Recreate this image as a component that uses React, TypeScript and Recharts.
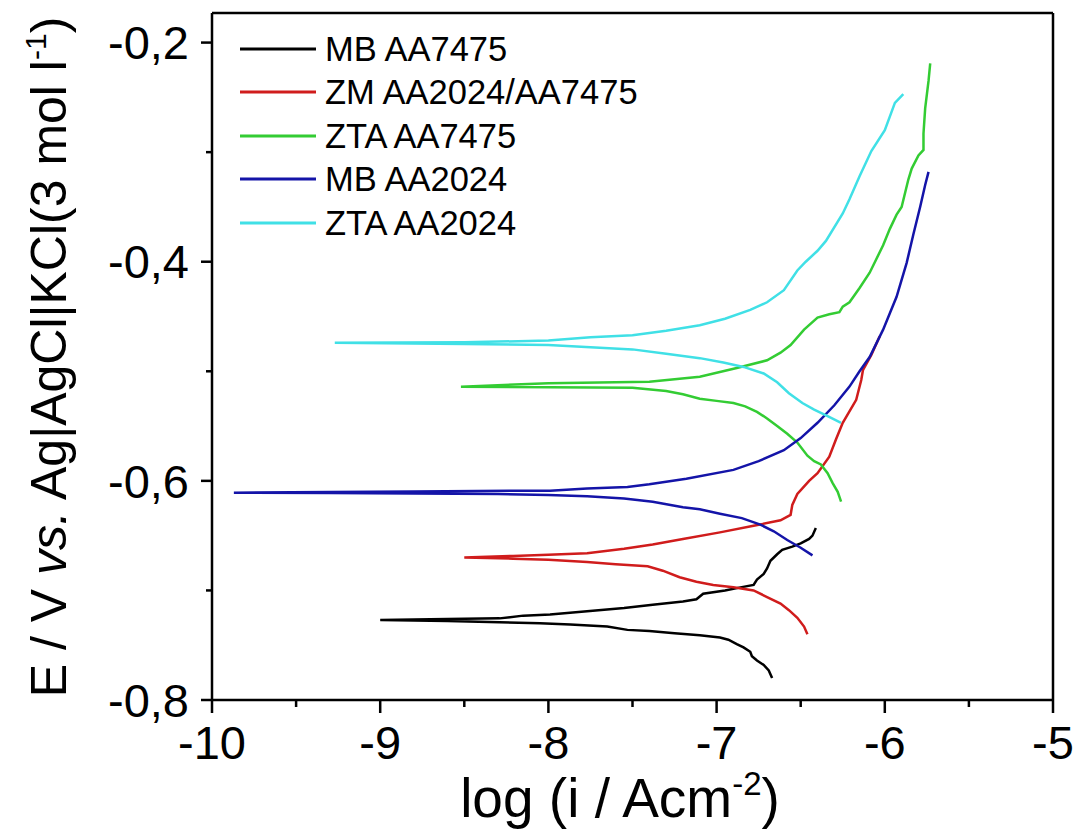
import { Legend, Line, LineChart, ReferenceLine, XAxis, YAxis } from "recharts";

// [log i, E] pairs, from the cathodic end through Ecorr to the anodic end
const mbAA7475 = [
  [-6.67, -0.78], [-6.69, -0.773], [-6.72, -0.768], [-6.76, -0.764], [-6.79, -0.76], [-6.8, -0.756],
  [-6.84, -0.752], [-6.88, -0.749], [-6.93, -0.745], [-6.98, -0.743], [-7.1, -0.741], [-7.25, -0.739],
  [-7.4, -0.737], [-7.53, -0.736], [-7.65, -0.733], [-7.87, -0.731], [-8.05, -0.73], [-8.29, -0.729],
  [-8.6, -0.728], [-9.0, -0.727],
  [-8.6, -0.726], [-8.29, -0.7255], [-8.15, -0.723], [-7.99, -0.722], [-7.77, -0.719], [-7.55, -0.716],
  [-7.38, -0.713], [-7.2, -0.71], [-7.12, -0.708], [-7.08, -0.703], [-6.95, -0.7], [-6.85, -0.697],
  [-6.78, -0.695], [-6.76, -0.69], [-6.72, -0.685], [-6.7, -0.68], [-6.68, -0.673], [-6.64, -0.667],
  [-6.61, -0.663], [-6.55, -0.66], [-6.5, -0.657], [-6.45, -0.653], [-6.43, -0.65], [-6.41, -0.643],
];

const zmAA2024AA7475 = [
  [-6.46, -0.74], [-6.48, -0.733], [-6.52, -0.725], [-6.57, -0.718], [-6.62, -0.712], [-6.7, -0.706],
  [-6.78, -0.7], [-6.9, -0.697], [-7.02, -0.695], [-7.12, -0.692], [-7.22, -0.688], [-7.32, -0.682],
  [-7.41, -0.678], [-7.6, -0.676], [-7.77, -0.674], [-8.0, -0.672], [-8.21, -0.671], [-8.5, -0.67],
  [-8.21, -0.6685], [-8.0, -0.6675], [-7.77, -0.666], [-7.55, -0.662], [-7.38, -0.658], [-7.2, -0.653],
  [-6.98, -0.647], [-6.78, -0.641], [-6.62, -0.636], [-6.56, -0.631], [-6.55, -0.622], [-6.52, -0.612],
  [-6.45, -0.6], [-6.4, -0.593], [-6.33, -0.578], [-6.29, -0.562], [-6.25, -0.547], [-6.17, -0.526],
  [-6.14, -0.508], [-6.13, -0.499], [-6.08, -0.485], [-6.03, -0.468],
];

const ztaAA7475 = [
  [-6.26, -0.619], [-6.28, -0.61], [-6.31, -0.602], [-6.34, -0.593], [-6.38, -0.585], [-6.42, -0.582],
  [-6.46, -0.577], [-6.52, -0.565], [-6.58, -0.557], [-6.64, -0.55], [-6.7, -0.543], [-6.76, -0.537],
  [-6.83, -0.532], [-6.9, -0.529], [-7.0, -0.527], [-7.1, -0.525], [-7.2, -0.521], [-7.3, -0.518],
  [-7.5, -0.515], [-7.99, -0.5145], [-8.52, -0.514],
  [-8.0, -0.511], [-7.4, -0.5095], [-7.1, -0.505], [-6.88, -0.497], [-6.7, -0.49], [-6.62, -0.483],
  [-6.56, -0.476], [-6.48, -0.462], [-6.4, -0.451], [-6.33, -0.448], [-6.27, -0.446], [-6.25, -0.441],
  [-6.21, -0.437], [-6.15, -0.424], [-6.09, -0.41], [-6.01, -0.385], [-5.97, -0.37], [-5.93, -0.357],
  [-5.9, -0.35], [-5.86, -0.325], [-5.84, -0.315], [-5.8, -0.303], [-5.77, -0.298], [-5.77, -0.283],
  [-5.76, -0.26], [-5.74, -0.235], [-5.73, -0.219],
];

const mbAA2024 = [
  [-6.43, -0.668], [-6.5, -0.661], [-6.58, -0.654], [-6.66, -0.646], [-6.74, -0.64], [-6.85, -0.634],
  [-6.98, -0.63], [-7.1, -0.626], [-7.2, -0.624], [-7.38, -0.619], [-7.55, -0.616], [-7.77, -0.614],
  [-8.0, -0.613], [-8.3, -0.612], [-8.8, -0.6115], [-9.3, -0.611], [-9.87, -0.6108],
  [-9.3, -0.6102], [-8.8, -0.6098], [-8.23, -0.609], [-7.99, -0.609], [-7.77, -0.607], [-7.53, -0.6055],
  [-7.4, -0.603], [-7.18, -0.598], [-6.9, -0.59], [-6.75, -0.582], [-6.6, -0.572], [-6.5, -0.561],
  [-6.4, -0.547], [-6.3, -0.531], [-6.21, -0.514], [-6.15, -0.5], [-6.09, -0.487], [-6.01, -0.462],
  [-5.97, -0.447], [-5.93, -0.432], [-5.87, -0.401], [-5.83, -0.375], [-5.79, -0.35], [-5.76, -0.33],
  [-5.74, -0.318],
];

const ztaAA2024 = [
  [-6.26, -0.547], [-6.34, -0.541], [-6.42, -0.535], [-6.49, -0.529], [-6.57, -0.52], [-6.64, -0.51],
  [-6.72, -0.502], [-6.84, -0.496], [-6.96, -0.492], [-7.1, -0.488], [-7.3, -0.484], [-7.5, -0.48],
  [-7.75, -0.478], [-8.0, -0.476], [-8.5, -0.475], [-9.27, -0.474],
  [-8.5, -0.4735], [-8.0, -0.472], [-7.75, -0.469], [-7.5, -0.467], [-7.3, -0.463], [-7.1, -0.458],
  [-6.95, -0.452], [-6.8, -0.444], [-6.7, -0.437], [-6.6, -0.426], [-6.52, -0.408], [-6.47, -0.4],
  [-6.4, -0.39], [-6.35, -0.381], [-6.25, -0.356], [-6.21, -0.343], [-6.15, -0.322], [-6.08, -0.299],
  [-6.0, -0.28], [-5.94, -0.255], [-5.89, -0.247],
];

const seriesNames = ["MB AA7475", "ZM AA2024/AA7475", "ZTA AA7475", "MB AA2024", "ZTA AA2024"];
const seriesColors = ["#000000", "#d01c1c", "#33cc33", "#1414a8", "#40e0e6"];
const seriesRows = [mbAA7475, zmAA2024AA7475, ztaAA7475, mbAA2024, ztaAA2024];

const xMajorTicks = [-10, -9, -8, -7, -6, -5];
const xMinorTicks = [-9.5, -8.5, -7.5, -6.5, -5.5];
const yMajorTicks = [-0.8, -0.6, -0.4, -0.2];
const yMinorTicks = [-0.7, -0.5, -0.3];
const Y_TOP = -0.173;

const FONT = "'Liberation Sans', Arial, sans-serif";

const toPoints = (rows: number[][]) => rows.map(([x, y]) => ({ x, y }));

function XTick({ x, y, payload }: any) {
  const major = xMajorTicks.includes(payload.value);
  return (
    <g>
      <line x1={x} y1={y} x2={x} y2={y + (major ? 13 : 7)} stroke="#000" strokeWidth={2.5} />
      {major && (
        <text x={x} y={y + 26} dy="0.71em" textAnchor="middle" fontSize={47} fontFamily={FONT} fill="#000">
          {payload.value}
        </text>
      )}
    </g>
  );
}

function YTick({ x, y, payload }: any) {
  const major = yMajorTicks.some((v) => Math.abs(v - payload.value) < 1e-6);
  return (
    <g>
      <line x1={x} y1={y} x2={x - (major ? 11 : 6)} y2={y} stroke="#000" strokeWidth={2.5} />
      {major && (
        <text x={x - 23} y={y} dy="0.355em" textAnchor="end" fontSize={47} fontFamily={FONT} fill="#000">
          {payload.value.toFixed(1).replace(".", ",")}
        </text>
      )}
    </g>
  );
}

function LegendBox() {
  return (
    <div style={{ fontFamily: FONT, fontSize: 34.5, color: "#000" }}>
      {seriesNames.map((name, i) => (
        <div key={name} style={{ display: "flex", alignItems: "center", height: 43.5 }}>
          <svg width={76} height={4} style={{ display: "block" }}>
            <line x1={0} y1={2} x2={76} y2={2} stroke={seriesColors[i]} strokeWidth={3} />
          </svg>
          <span style={{ marginLeft: 9, lineHeight: 1 }}>{name}</span>
        </div>
      ))}
    </div>
  );
}

export default function App() {
  return (
    <div style={{ position: "absolute", left: 0, top: 0, width: 1080, height: 830, background: "#fff" }}>
      <LineChart width={1080} height={830} margin={{ top: 13, right: 27, bottom: 0, left: 0 }}>
        <XAxis
          type="number"
          dataKey="x"
          domain={[-10, -5]}
          ticks={[...xMajorTicks, ...xMinorTicks].sort((a, b) => a - b)}
          interval={0}
          allowDataOverflow
          height={130}
          tickSize={0}
          tickMargin={0}
          tickLine={false}
          tick={<XTick />}
          axisLine={{ stroke: "#000", strokeWidth: 2.5 }}
          label={() => (
            <text x={620} y={817} textAnchor="middle" fontSize={55} fontFamily={FONT} fill="#000">
              log (i / Acm
              <tspan fontSize={33} dy={-22}>-2</tspan>
              <tspan dy={22}>)</tspan>
            </text>
          )}
        />
        <YAxis
          type="number"
          dataKey="y"
          domain={[-0.8, Y_TOP]}
          ticks={[...yMajorTicks, ...yMinorTicks].sort((a, b) => a - b)}
          interval={0}
          allowDataOverflow
          width={212}
          tickSize={0}
          tickMargin={0}
          tickLine={false}
          tick={<YTick />}
          axisLine={{ stroke: "#000", strokeWidth: 2.5 }}
          label={() => (
            <text x={66} y={357} transform="rotate(-90 66 357)" textAnchor="middle" fontSize={50} fontFamily={FONT} fill="#000">
              E / V <tspan fontStyle="italic">vs.</tspan> Ag|AgCl|KCl(3 mol l
              <tspan fontSize={30} dy={-20}>-1</tspan>
              <tspan dy={20}>)</tspan>
            </text>
          )}
        />
        <ReferenceLine y={Y_TOP} stroke="#000" strokeWidth={2.5} />
        <ReferenceLine x={-5} stroke="#000" strokeWidth={2.5} />
        <Legend
          layout="vertical"
          align="center"
          verticalAlign="middle"
          content={<LegendBox />}
          wrapperStyle={{ left: 240, top: 27, width: 440 }}
        />
        {seriesRows.map((rows, i) => (
          <Line
            key={seriesNames[i]}
            data={toPoints(rows)}
            dataKey="y"
            name={seriesNames[i]}
            stroke={seriesColors[i]}
            strokeWidth={2.5}
            dot={false}
            type="linear"
            isAnimationActive={false}
          />
        ))}
      </LineChart>
    </div>
  );
}
